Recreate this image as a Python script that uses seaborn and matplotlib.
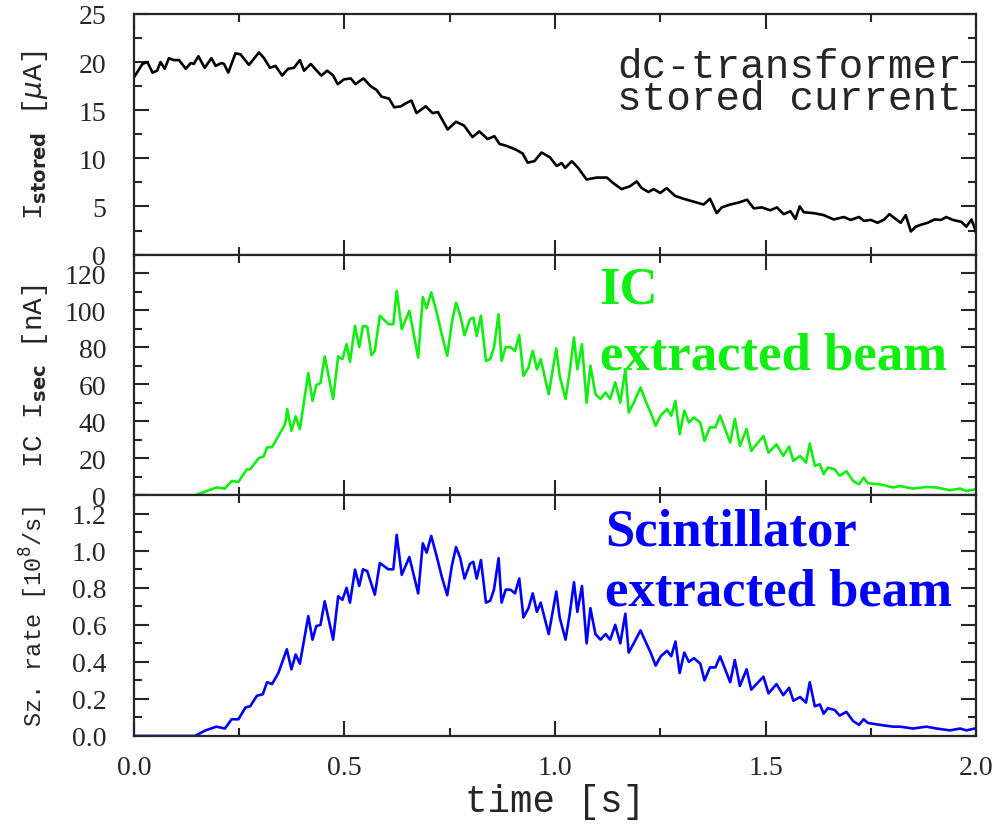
import seaborn as sns
import matplotlib.pyplot as plt
from matplotlib.ticker import MultipleLocator

# dc-transformer: stored current [uA]
t_dc = [0.0, 0.02, 0.032, 0.044, 0.055, 0.063, 0.073, 0.083, 0.095, 0.107, 0.123, 0.135, 0.142,
        0.153, 0.168, 0.184, 0.194, 0.208, 0.214, 0.224, 0.241, 0.253, 0.273, 0.297, 0.309, 0.323,
        0.336, 0.352, 0.366, 0.380, 0.394, 0.404, 0.420, 0.432, 0.445, 0.459, 0.473, 0.484, 0.499,
        0.515, 0.526, 0.545, 0.562, 0.576, 0.588, 0.606, 0.618, 0.634, 0.645, 0.659, 0.671, 0.693,
        0.709, 0.722, 0.745, 0.765, 0.784, 0.804, 0.820, 0.840, 0.856, 0.868, 0.884, 0.896, 0.907,
        0.923, 0.935, 0.951, 0.968, 0.988, 1.004, 1.016, 1.024, 1.040, 1.055, 1.075, 1.099, 1.123,
        1.139, 1.158, 1.178, 1.194, 1.206, 1.222, 1.234, 1.250, 1.265, 1.285, 1.305, 1.329, 1.353,
        1.368, 1.384, 1.396, 1.416, 1.436, 1.456, 1.472, 1.491, 1.511, 1.527, 1.543, 1.559, 1.571,
        1.581, 1.591, 1.615, 1.638, 1.662, 1.686, 1.702, 1.722, 1.734, 1.750, 1.766, 1.782, 1.794,
        1.806, 1.821, 1.833, 1.845, 1.857, 1.869, 1.885, 1.901, 1.917, 1.929, 1.945, 1.965, 1.977,
        1.989, 1.997, 2.0]
i_stored = [18.4, 19.8, 20.0, 18.9, 19.1, 20.0, 19.3, 20.4, 20.2, 20.2, 19.3, 19.9, 19.8,
            20.6, 19.4, 20.4, 19.6, 19.9, 19.8, 18.9, 20.9, 20.8, 19.7, 21.0, 20.4, 19.4,
            19.6, 18.6, 19.3, 19.4, 20.2, 19.1, 19.8, 19.2, 18.6, 19.1, 18.6, 17.7, 18.2,
            18.3, 17.7, 18.3, 17.5, 17.1, 16.4, 16.2, 15.3, 15.4, 15.7, 16.0, 14.7, 15.4,
            14.7, 14.8, 13.0, 13.8, 13.4, 12.2, 12.8, 12.0, 12.3, 11.5, 11.3, 11.1, 10.9,
            10.5, 9.55, 9.7, 10.6, 10.1, 9.2, 9.5, 9.0, 9.7, 9.0, 7.8, 8.0, 8.0,
            7.4, 6.8, 7.1, 7.6, 6.9, 6.5, 6.8, 6.4, 6.9, 6.1, 5.8, 5.5, 5.2,
            5.8, 4.3, 4.9, 5.2, 5.4, 5.7, 4.8, 4.9, 4.6, 4.9, 4.2, 4.5, 3.7,
            5.0, 4.4, 4.3, 4.1, 3.65, 3.9, 3.6, 3.9, 3.5, 3.6, 3.3, 3.65, 4.2,
            3.8, 3.3, 4.1, 2.4, 2.9, 3.1, 3.3, 3.65, 3.6, 3.9, 3.6, 3.4, 2.9,
            3.65, 2.7, 2.2]

# ionisation chamber: secondary current [nA]
t_ic = [0.0, 0.145, 0.173, 0.196, 0.216, 0.232, 0.248, 0.268, 0.276, 0.296, 0.308, 0.316, 0.328,
        0.343, 0.359, 0.364, 0.374, 0.384, 0.394, 0.414, 0.424, 0.433, 0.443, 0.453, 0.473, 0.485,
        0.495, 0.505, 0.513, 0.525, 0.535, 0.544, 0.554, 0.564, 0.572, 0.584, 0.604, 0.616, 0.624,
        0.636, 0.654, 0.675, 0.686, 0.695, 0.706, 0.719, 0.731, 0.744, 0.755, 0.765, 0.775, 0.785,
        0.798, 0.806, 0.814, 0.824, 0.836, 0.846, 0.855, 0.866, 0.873, 0.883, 0.894, 0.905, 0.915,
        0.925, 0.937, 0.947, 0.957, 0.966, 0.985, 1.003, 1.011, 1.025, 1.035, 1.045, 1.053, 1.064,
        1.075, 1.084, 1.096, 1.108, 1.120, 1.131, 1.143, 1.155, 1.167, 1.175, 1.187, 1.203, 1.215,
        1.227, 1.239, 1.251, 1.266, 1.276, 1.286, 1.296, 1.307, 1.318, 1.330, 1.345, 1.355, 1.368,
        1.381, 1.392, 1.416, 1.427, 1.439, 1.455, 1.466, 1.495, 1.507, 1.526, 1.542, 1.556, 1.566,
        1.582, 1.596, 1.605, 1.617, 1.629, 1.638, 1.648, 1.664, 1.676, 1.692, 1.708, 1.722, 1.733,
        1.743, 1.771, 1.803, 1.819, 1.850, 1.882, 1.906, 1.938, 1.962, 1.977, 1.997]
i_sec = [0, 0, 2.3, 4.2, 3.6, 7.7, 7.2, 14, 14, 20, 21, 25.8, 26,
         32, 38.4, 46.5, 34.8, 42.6, 35.7, 66, 51, 59.5, 60.6, 75, 52, 75,
         73.5, 81.6, 72, 91.5, 80, 91.5, 91, 75.7, 78, 97, 92.4, 92.4, 110.4,
         89.7, 99.6, 74.4, 107, 101, 109.6, 98.7, 87, 75.3, 93.3, 104, 97, 86.5,
         95, 96, 86, 97, 72.6, 73.5, 79.8, 97.8, 72.6, 80, 80, 78, 86.5,
         64.5, 69, 78, 68, 73.5, 54.6, 79.3, 64.5, 52, 67, 85.2, 68, 81.6,
         50, 70, 54.6, 52, 55.5, 52, 61, 50, 68, 44.7, 50, 58.2, 51,
         44.7, 37.5, 43, 46.5, 43, 51, 33, 45.7, 39.3, 42, 39.3, 29.4, 36.7,
         36.7, 43, 28.5, 41.3, 26.7, 35.8, 24, 32, 23, 27.5, 21.3, 26.3, 18.5,
         21.3, 17.6, 28, 15.9, 16.8, 11.4, 15, 14, 10.5, 13, 7.7, 5.9, 9.5,
         6.5, 5.9, 4.2, 5, 3.6, 4.5, 4.2, 2.7, 3.6, 2.3, 3.2]

# scintillator: count rate [10^8/s]
t_sz = [0.0, 0.145, 0.170, 0.196, 0.216, 0.232, 0.248, 0.265, 0.276, 0.292, 0.306, 0.316, 0.328,
        0.343, 0.363, 0.374, 0.384, 0.394, 0.414, 0.424, 0.433, 0.443, 0.453, 0.473, 0.485, 0.495,
        0.505, 0.513, 0.525, 0.535, 0.544, 0.554, 0.572, 0.584, 0.604, 0.616, 0.624, 0.636, 0.654,
        0.675, 0.686, 0.695, 0.706, 0.719, 0.731, 0.744, 0.755, 0.765, 0.775, 0.785, 0.798, 0.806,
        0.814, 0.824, 0.836, 0.846, 0.855, 0.866, 0.873, 0.883, 0.894, 0.905, 0.915, 0.925, 0.937,
        0.947, 0.957, 0.966, 0.985, 1.003, 1.011, 1.025, 1.035, 1.045, 1.053, 1.064, 1.075, 1.084,
        1.096, 1.108, 1.120, 1.131, 1.143, 1.155, 1.167, 1.175, 1.187, 1.203, 1.215, 1.227, 1.239,
        1.251, 1.266, 1.276, 1.286, 1.296, 1.307, 1.318, 1.330, 1.345, 1.355, 1.368, 1.381, 1.392,
        1.416, 1.427, 1.439, 1.455, 1.466, 1.495, 1.507, 1.526, 1.542, 1.556, 1.566, 1.582, 1.596,
        1.605, 1.617, 1.629, 1.638, 1.648, 1.664, 1.676, 1.692, 1.708, 1.722, 1.733, 1.743, 1.771,
        1.803, 1.819, 1.850, 1.882, 1.906, 1.938, 1.962, 1.977, 1.997]
sz_rate = [0, 0, 0.03, 0.05, 0.04, 0.09, 0.09, 0.154, 0.16, 0.217, 0.225, 0.29, 0.28,
           0.34, 0.468, 0.36, 0.44, 0.39, 0.647, 0.52, 0.593, 0.60, 0.727, 0.52, 0.754, 0.735,
           0.80, 0.72, 0.898, 0.81, 0.90, 0.89, 0.763, 0.934, 0.90, 0.90, 1.086, 0.87, 0.966,
           0.77, 1.04, 0.99, 1.08, 0.97, 0.86, 0.76, 0.92, 1.02, 0.96, 0.85, 0.93, 0.94,
           0.85, 0.95, 0.72, 0.73, 0.79, 0.96, 0.72, 0.79, 0.79, 0.77, 0.85, 0.64, 0.69,
           0.77, 0.67, 0.72, 0.55, 0.78, 0.64, 0.52, 0.66, 0.83, 0.67, 0.81, 0.50, 0.69,
           0.55, 0.52, 0.55, 0.52, 0.60, 0.50, 0.66, 0.45, 0.50, 0.57, 0.51, 0.45, 0.38,
           0.43, 0.46, 0.43, 0.51, 0.34, 0.45, 0.40, 0.42, 0.39, 0.30, 0.37, 0.37, 0.43,
           0.29, 0.41, 0.27, 0.36, 0.25, 0.32, 0.23, 0.28, 0.22, 0.26, 0.19, 0.21, 0.18,
           0.29, 0.16, 0.17, 0.12, 0.15, 0.14, 0.11, 0.13, 0.08, 0.06, 0.09, 0.07, 0.06,
           0.05, 0.05, 0.04, 0.05, 0.04, 0.03, 0.04, 0.03, 0.04]

sns.set_style("ticks")
plt.rcParams['font.family'] = ['Liberation Serif', 'DejaVu Sans']
plt.rcParams['mathtext.fontset'] = 'dejavusans'

fig, axes = plt.subplots(3, 1, sharex=True, figsize=(9.96, 8.28), dpi=100)
fig.subplots_adjust(left=0.1345, right=0.98, top=0.982, bottom=0.11, hspace=0)

sns.lineplot(x=t_dc, y=i_stored, ax=axes[0], color='black', linewidth=1.9, estimator=None)
sns.lineplot(x=t_ic, y=i_sec, ax=axes[1], color='#11ee11', linewidth=1.9, estimator=None)
sns.lineplot(x=t_sz, y=sz_rate, ax=axes[2], color='#0000ff', linewidth=1.9, estimator=None)

ylims = [(0, 25), (0, 130), (0, 1.3)]
majors = [5, 20, 0.2]
ylabels = [r'I$_{\mathbf{stored}}$ [$\mu$A]', r'IC I$_{\mathbf{sec}}$ [nA]', r'Sz. rate [10$^8$/s]']
lab_sizes = [20, 20, 17]

for ax, yl, mj, lab, ls in zip(axes, ylims, majors, ylabels, lab_sizes):
    ax.set_xlim(0, 2.0)
    ax.set_ylim(*yl)
    ax.xaxis.set_major_locator(MultipleLocator(0.5))
    ax.xaxis.set_minor_locator(MultipleLocator(0.25))
    ax.yaxis.set_major_locator(MultipleLocator(mj))
    ax.yaxis.set_minor_locator(MultipleLocator(mj / 2))
    ax.tick_params(which='both', direction='in', top=True, right=True, width=1.5, labelsize=20)
    ax.tick_params(which='major', length=11)
    ax.tick_params(which='minor', length=6)
    ax.tick_params(axis='y', pad=20)
    ax.tick_params(axis='x', pad=14)
    for sp in ax.spines.values():
        sp.set_linewidth(1.6)
    ax.set_ylabel(lab, fontsize=ls, family=['Liberation Mono', 'DejaVu Sans'], labelpad=6)
    ax.yaxis.set_label_coords(-0.1, 0.5)
    ax.set_xlabel('')

axes[2].set_xlabel('time [s]', fontsize=27, family=['Liberation Mono', 'DejaVu Sans'], labelpad=2)

# two-line note, drawn as one text so the lines sit tight like the original
axes[0].text(0.574, 0.606, 'dc-transformer\nstored current', transform=axes[0].transAxes,
             fontsize=29.5, family=['Liberation Mono'], va='baseline', linespacing=0.78)

axes[1].text(0.553, 0.80, 'IC', transform=axes[1].transAxes, fontsize=38,
             fontweight='bold', color='#11ee11', va='baseline')
axes[1].text(0.553, 0.525, 'extracted beam', transform=axes[1].transAxes, fontsize=38,
             fontweight='bold', color='#11ee11', va='baseline')
axes[2].text(0.559, 0.797, 'Scintillator', transform=axes[2].transAxes, fontsize=38,
             fontweight='bold', color='#0000ff', va='baseline')
axes[2].text(0.559, 0.544, 'extracted beam', transform=axes[2].transAxes, fontsize=38,
             fontweight='bold', color='#0000ff', va='baseline')

plt.savefig('out.png', dpi=100)
